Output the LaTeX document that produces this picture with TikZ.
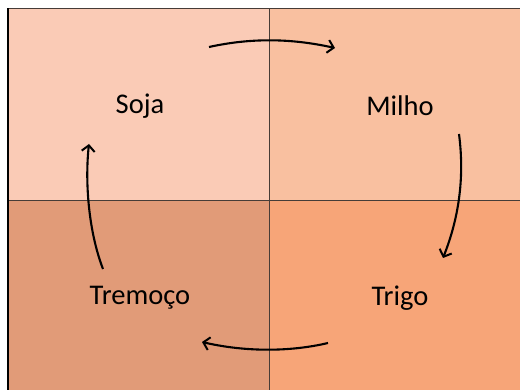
\documentclass[tikz,border=0pt]{standalone}
\usepackage{fontspec}
\setmainfont{Carlito}
\usetikzlibrary{arrows.meta}
\definecolor{cTL}{RGB}{250,203,182}
\definecolor{cTR}{RGB}{249,192,160}
\definecolor{cBL}{RGB}{225,155,120}
\definecolor{cBR}{RGB}{247,165,120}
\definecolor{gridc}{RGB}{70,60,55}
\tikzset{
  lbl/.style={font=\fontsize{28.5}{32}\selectfont, text=black, inner sep=0pt},
  cyc/.style={line width=2.1pt, black, -{Straight Barb[length=6pt,width=13pt,line width=2pt]}},
}
\begin{document}
\begin{tikzpicture}[x=1pt,y=-1pt]
\useasboundingbox (0,0) rectangle (520,390);
\fill[white] (0,0) rectangle (520,390);
\fill[cTL] (8,9) rectangle (269,201);
\fill[cTR] (269,9) rectangle (521,201);
\fill[cBL] (8,201) rectangle (269,391);
\fill[cBR] (269,201) rectangle (521,391);
\draw[gridc, line width=1pt] (8,9) -- (521,9);
\draw[gridc, line width=1pt] (269,9) -- (269,391);
\draw[gridc, line width=1pt] (8,201) -- (521,201);
\draw[black, line width=2pt] (8,8.5) -- (8,391);
\node[lbl] (soja) at (140,106) {Soja};
\node[lbl] (milho) at (400,106) {Milho};
\node[lbl] (tremoco) at (140,298) {Tremoço};
\node[lbl] (trigo) at (400,298) {Trigo};
\coordinate (a1s) at (209,47);
\coordinate (a1e) at (335,48);
\coordinate (a2s) at (459,134);
\coordinate (a2e) at (443,258);
\coordinate (a3s) at (328,343);
\coordinate (a3e) at (202,342);
\coordinate (a4s) at (103,269);
\coordinate (a4e) at (89,144);
\draw[cyc] (a1s) .. controls (250,38) and (290,38) .. (a1e);
\draw[cyc] (a2s) .. controls (465,180) and (458,220) .. (a2e);
\draw[cyc] (a3s) .. controls (290,352) and (245,352) .. (a3e);
\draw[cyc] (a4s) .. controls (88,230) and (85,180) .. (a4e);
\end{tikzpicture}
\end{document}
